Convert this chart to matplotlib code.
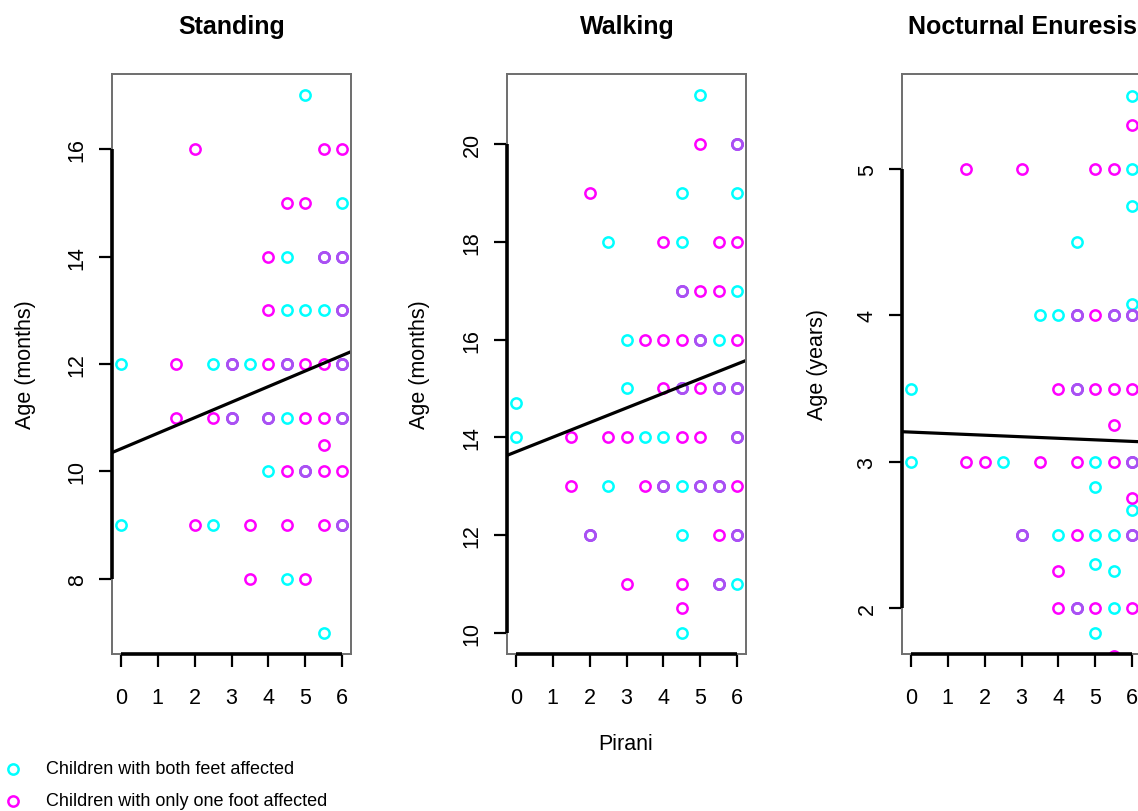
import numpy as np
import matplotlib
matplotlib.use('Agg')
import matplotlib.pyplot as plt
from matplotlib.lines import Line2D

plt.rcParams['font.family'] = ['Liberation Sans', 'DejaVu Sans']

# Standing (months)
stand_both_x = [5, 6, 4.5, 5.5, 6, 4.5, 5, 5.5, 6, 0, 2.5, 3, 3.5, 4.5, 6, 3, 4, 4.5, 6, 4, 5, 0, 2.5, 6, 4.5, 5.5]
stand_both_y = [17, 15, 14, 14, 14, 13, 13, 13, 13, 12, 12, 12, 12, 12, 12, 11, 11, 11, 11, 10, 10, 9, 9, 9, 8, 7]
stand_one_x = [2, 5.5, 6, 4.5, 5, 4, 5.5, 6, 4, 6, 1.5, 3, 4, 4.5, 5, 5.5, 6, 1.5, 2.5, 3, 4, 5, 5.5, 6,
               5.5, 4.5, 5, 5.5, 6, 2, 3.5, 4.5, 5.5, 6, 3.5, 5]
stand_one_y = [16, 16, 16, 15, 15, 14, 14, 14, 13, 13, 12, 12, 12, 12, 12, 12, 12, 11, 11, 11, 11, 11, 11, 11,
               10.5, 10, 10, 10, 10, 9, 9, 9, 9, 9, 8, 8]

# Walking (months)
walk_both_x = [5, 4.5, 6, 2.5, 4.5, 6, 4.5, 3, 5, 5.5, 3, 4.5, 5.5, 6, 0, 0, 3.5, 4, 6, 2.5, 4, 4.5, 5, 5.5,
               2, 4.5, 6, 5.5, 6, 4.5, 6]
walk_both_y = [21, 19, 19, 18, 18, 17, 17, 16, 16, 16, 15, 15, 15, 15, 14.7, 14, 14, 14, 14, 13, 13, 13, 13, 13,
               12, 12, 12, 11, 11, 10, 20]
walk_one_x = [5, 6, 2, 4, 5.5, 6, 4.5, 5, 5.5, 3.5, 4, 4.5, 5, 6, 4, 4.5, 5, 5.5, 6, 1.5, 2.5, 3, 4.5, 5, 6,
              1.5, 3.5, 4, 5, 5.5, 6, 2, 5.5, 6, 3, 4.5, 5.5, 4.5]
walk_one_y = [20, 20, 19, 18, 18, 18, 17, 17, 17, 16, 16, 16, 16, 16, 15, 15, 15, 15, 15, 14, 14, 14, 14, 14, 14,
              13, 13, 13, 13, 13, 13, 12, 12, 12, 11, 11, 11, 10.5]

# Nocturnal enuresis (years)
noct_both_x = [6, 6, 6, 4.5, 6, 3.5, 4, 4.5, 5.5, 6, 0, 4.5, 0, 2.5, 5, 6, 5, 6, 3, 4, 5, 5.5, 6, 5, 5.5,
               4.5, 5.5, 5]
noct_both_y = [5.5, 5, 4.75, 4.5, 4.08, 4, 4, 4, 4, 4, 3.5, 3.5, 3, 3, 3, 3, 2.83, 2.67, 2.5, 2.5, 2.5, 2.5, 2.5,
               2.3, 2.25, 2, 2, 1.83]
noct_one_x = [6, 1.5, 3, 5, 5.5, 4.5, 5, 5.5, 6, 4, 4.5, 5, 5.5, 6, 5.5, 1.5, 2, 3.5, 4.5, 5.5, 6, 6, 3, 4.5, 6,
              4, 4, 4.5, 5, 6, 5.5]
noct_one_y = [5.3, 5, 5, 5, 5, 4, 4, 4, 4, 3.5, 3.5, 3.5, 3.5, 3.5, 3.25, 3, 3, 3, 3, 3, 3, 2.75, 2.5, 2.5, 2.5,
              2.25, 2, 2, 2, 2, 1.67]

# regression lines (intercept, slope)
stand_fit = (10.42, 0.29)
walk_fit = (13.70, 0.30)
noct_fit = (3.202, -0.0106)

titles = ['Standing', 'Walking', 'Nocturnal Enuresis']
ylabels = ['Age (months)', 'Age (months)', 'Age (years)']
stand_yticks = [8, 10, 12, 14, 16]
walk_yticks = [10, 12, 14, 16, 18, 20]
noct_yticks = [2, 3, 4, 5]
xticks = [0, 1, 2, 3, 4, 5, 6]

W, H = 1138, 812
CYAN = '#00ffff'
MAGENTA = '#ff00ff'
PURPLE = '#a852f2'

fig = plt.figure(figsize=(W / 100, H / 100), dpi=100)


def pts(ax, x, y, color):
    ax.plot(x, y, ls='none', marker='o', mfc='none', mec=color, ms=7.4, mew=1.8)


def panel(left, ylim, yticks, bx, by, mx, my, fit, title, ylabel, ylab_x):
    ax = fig.add_axes([left / W, (H - 655) / H, 239 / W, 580 / H])
    ax.set_xlim(-0.24, 6.24)
    ax.set_ylim(ylim)
    for s in ax.spines.values():
        s.set_color('#6e6e6e')
        s.set_linewidth(1.4)
    ax.set_xticks(xticks)
    ax.set_yticks(yticks)
    ax.tick_params(direction='out', length=9.5, width=1.6, labelsize=15.5)
    ax.tick_params(axis='x', pad=14)
    ax.tick_params(axis='y', pad=8, labelrotation=90)
    for lbl in ax.get_yticklabels():
        lbl.set_va('center')
    # axis lines from first to last tick, like R's axis()
    ax.plot([0, 0], [yticks[0], yticks[-1]], transform=ax.get_yaxis_transform(),
            color='k', lw=2.6, clip_on=False, solid_capstyle='butt', zorder=4)
    ax.plot([xticks[0], xticks[-1]], [0, 0], transform=ax.get_xaxis_transform(),
            color='k', lw=2.6, clip_on=False, solid_capstyle='butt', zorder=4)

    pts(ax, bx, by, CYAN)
    pts(ax, mx, my, MAGENTA)
    both = set(zip(bx, by)) & set(zip(mx, my))
    if both:
        ox, oy = zip(*sorted(both))
        pts(ax, ox, oy, PURPLE)

    xs = np.array(ax.get_xlim())
    ax.plot(xs, fit[0] + fit[1] * xs, color='k', lw=2.3)

    cx = (left + 120) / W
    fig.text(cx, 1 - 27 / H, title, ha='center', va='center', fontsize=18, fontweight='bold')
    fig.text(ylab_x / W, 1 - 365 / H, ylabel, ha='center', va='center', rotation=90, fontsize=15.5)
    return ax


panel(112, (6.6, 17.4), stand_yticks, stand_both_x, stand_both_y, stand_one_x, stand_one_y,
      stand_fit, titles[0], ylabels[0], 25)
panel(507, (9.56, 21.44), walk_yticks, walk_both_x, walk_both_y, walk_one_x, walk_one_y,
      walk_fit, titles[1], ylabels[1], 420)
panel(902, (1.685, 5.65), noct_yticks, noct_both_x, noct_both_y, noct_one_x, noct_one_y,
      noct_fit, titles[2], ylabels[2], 817)

fig.text(626 / W, 1 - 745 / H, 'Pirani', ha='center', va='center', fontsize=15.5)

# legend at bottom left
for yy, col, txt in [(770, CYAN, 'Children with both feet affected'),
                     (802, MAGENTA, 'Children with only one foot affected')]:
    fig.add_artist(Line2D([13 / W], [1 - yy / H], transform=fig.transFigure, ls='none',
                          marker='o', mfc='none', mec=col, ms=7.4, mew=1.8))
    fig.text(46 / W, 1 - yy / H, txt, ha='left', va='center', fontsize=13)

fig.savefig('out.png', dpi=100)
